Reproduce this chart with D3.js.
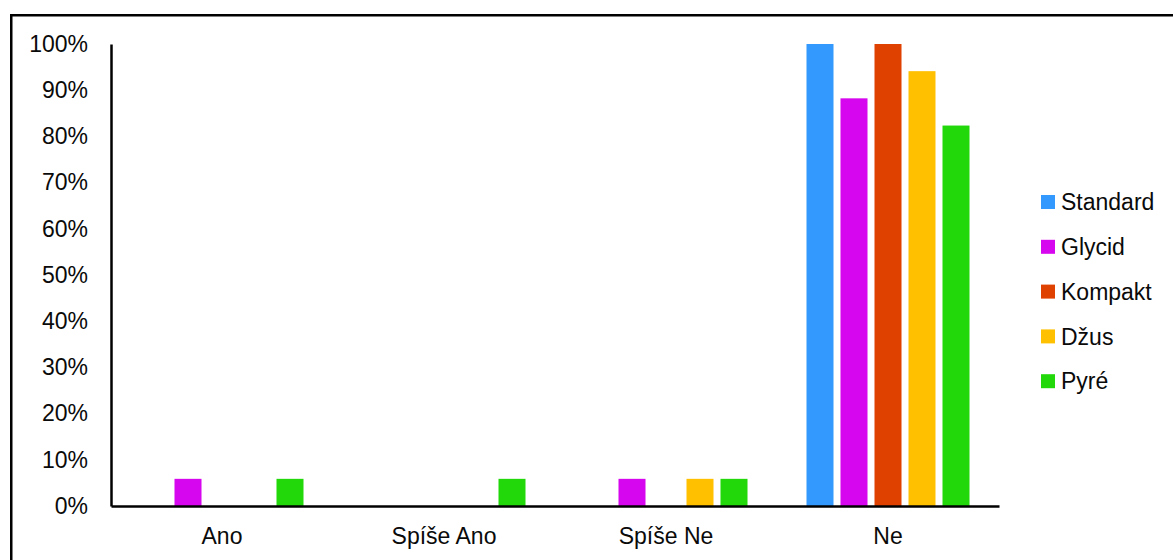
<!DOCTYPE html>
<html>
<head>
<meta charset="utf-8">
<script src="https://cdn.jsdelivr.net/npm/d3@7"></script>
<style>
  html, body { margin: 0; padding: 0; background: #fff; }
  svg { display: block; font-family: "Liberation Sans", Arial, sans-serif; }
</style>
</head>
<body>
<svg id="chart" width="1173" height="560"></svg>
<script>
// Answer categories on the x axis
const categories = ["Ano", "Spíše Ano", "Spíše Ne", "Ne"];
// Product variants (legend order)
const seriesNames = ["Standard", "Glycid", "Kompakt", "Džus", "Pyré"];
const seriesColors = ["#3399FF", "#D606EE", "#DF4100", "#FFC000", "#22D80A"];
// Share of respondents (%) per category, one array per variant
const standardValues = [0, 0, 0, 100];
const glycidValues   = [5.88, 0, 5.88, 88.24];
const kompaktValues  = [0, 0, 0, 100];
const dzusValues     = [0, 0, 5.88, 94.12];
const pyreValues     = [5.88, 5.88, 5.88, 82.35];
const yTicks = [0, 10, 20, 30, 40, 50, 60, 70, 80, 90, 100];

const seriesValues = [standardValues, glycidValues, kompaktValues, dzusValues, pyreValues];

const svg = d3.select("#chart");
const FONT = 23;

// Outer frame
svg.append("rect")
  .attr("x", 11.25).attr("y", 15.25)
  .attr("width", 1200).attr("height", 600)
  .attr("fill", "none").attr("stroke", "#000").attr("stroke-width", 2.5);

const plot = { left: 111, right: 999, top: 44, bottom: 506 };

const x0 = d3.scaleBand().domain(categories)
  .range([plot.left, plot.right]).paddingInner(0).paddingOuter(0);
// bars 27px wide with 7px gaps, group offset inside each category band
const x1 = d3.scaleBand().domain(seriesNames)
  .range([29.5, 29.5 + 163]).paddingInner(7 / 34).paddingOuter(0);
const y = d3.scaleLinear().domain([0, 100]).range([plot.bottom, plot.top]);
const color = d3.scaleOrdinal().domain(seriesNames).range(seriesColors);

// Bars
const groups = svg.append("g").selectAll("g")
  .data(categories)
  .join("g")
  .attr("transform", d => `translate(${x0(d)},0)`);

groups.selectAll("rect")
  .data((c, ci) => seriesNames.map((s, si) => ({ s, v: seriesValues[si][ci] })).filter(d => d.v > 0))
  .join("rect")
  .attr("x", d => x1(d.s))
  .attr("width", x1.bandwidth())
  .attr("y", d => y(d.v))
  .attr("height", d => y(0) - y(d.v))
  .attr("fill", d => color(d.s));

// Y axis
const yAxis = svg.append("g")
  .attr("transform", `translate(${plot.left},0)`)
  .call(d3.axisLeft(y).tickValues(yTicks).tickFormat(d => d + "%").tickSize(0).tickPadding(23));
yAxis.select(".domain").attr("stroke", "#000").attr("stroke-width", 2.5);
yAxis.selectAll("text").attr("font-size", FONT).attr("fill", "#0a0a0a")
  .attr("font-family", "Liberation Sans, Arial, sans-serif");

// X axis
const xAxis = svg.append("g")
  .attr("transform", `translate(0,${plot.bottom})`)
  .call(d3.axisBottom(x0).tickSize(0).tickPadding(22));
xAxis.select(".domain").attr("stroke", "#000").attr("stroke-width", 2.5);
xAxis.selectAll("text").attr("font-size", FONT).attr("fill", "#0a0a0a")
  .attr("font-family", "Liberation Sans, Arial, sans-serif");

// Legend
const legend = svg.append("g").selectAll("g")
  .data(seriesNames)
  .join("g")
  .attr("transform", (d, i) => `translate(1041,${202 + i * 44.8})`);
legend.append("rect")
  .attr("x", 0).attr("y", -7).attr("width", 14).attr("height", 14)
  .attr("fill", d => color(d));
legend.append("text")
  .attr("x", 20).attr("y", 0).attr("dy", "0.36em")
  .attr("font-size", FONT).attr("fill", "#0a0a0a")
  .text(d => d);
</script>
</body>
</html>
